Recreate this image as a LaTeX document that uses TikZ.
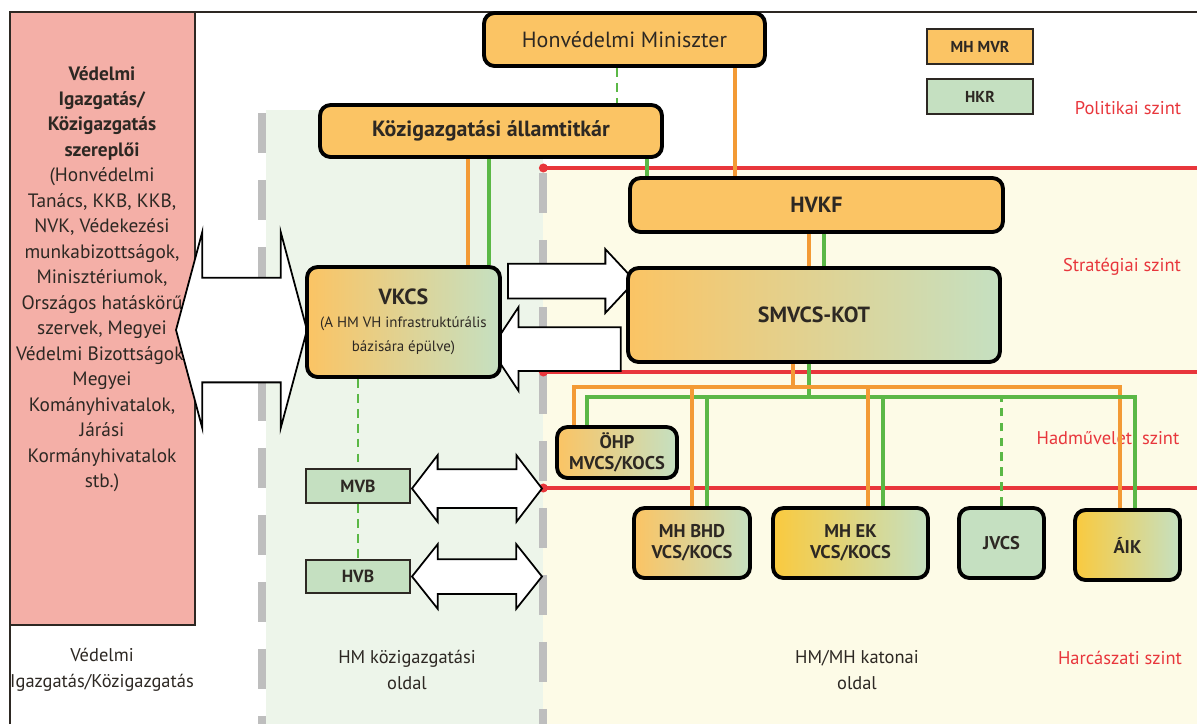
\documentclass[tikz,border=0pt]{standalone}
\usepackage{fontspec}
\setmainfont{PT Sans}
\usepackage{xcolor}
\usetikzlibrary{arrows.meta, calc, shapes.arrows}
\definecolor{mvr}{RGB}{251,196,100}
\definecolor{mvrdeep}{RGB}{250,202,62}
\definecolor{hkr}{RGB}{197,224,193}
\definecolor{actor}{RGB}{244,175,167}
\definecolor{civilbg}{RGB}{237,245,234}
\definecolor{militarybg}{RGB}{253,251,231}
\definecolor{linorange}{RGB}{243,154,53}
\definecolor{lingreen}{RGB}{91,184,70}
\definecolor{levelred}{RGB}{232,54,60}
\definecolor{sidegray}{RGB}{190,190,190}
\definecolor{ink}{RGB}{45,40,35}
\tikzset{
    >=Latex,
    unit/.style={draw=black, line width=2.2pt, rounded corners=6pt, inner sep=0pt, align=center,
        text=ink, font=\bfseries\fontsize{12.5}{14}\selectfont},
    mvrunit/.style={unit, fill=mvr},
    hkrunit/.style={unit, fill=hkr},
    mixunit/.style={unit, left color=mvr, right color=hkr},
    deepunit/.style={unit, left color=mvrdeep, right color=hkr},
    smallunit/.style={font=\bfseries\fontsize{10.5}{12}\selectfont},
    key/.style={draw=ink, line width=1.4pt, inner sep=0pt, minimum width=2.12cm, minimum height=0.7cm,
        text=ink, font=\bfseries\fontsize{9}{11}\selectfont},
    council/.style={key, fill=hkr, minimum width=2.08cm, minimum height=0.67cm, font=\bfseries\fontsize{10}{12}\selectfont},
    mvrlink/.style={draw=linorange, line width=1.8pt},
    hkrlink/.style={draw=lingreen, line width=1.8pt},
    hkrdash/.style={draw=lingreen, line width=1.2pt, dash pattern=on 5pt off 3.5pt},
    levelline/.style={draw=levelred, line width=1.8pt, arrows={Circle[length=5pt]-}},
    level/.style={text=levelred, font=\fontsize{10.5}{12}\selectfont},
    sideline/.style={draw=sidegray, line width=4.5pt, dash pattern=on 0.8cm off 0.54cm},
    side/.style={text=ink, align=center, font=\fontsize{10.5}{14.6}\selectfont},
    actorbox/.style={draw=ink, fill=actor, line width=1.2pt, inner sep=0pt},
    fat/.style={draw=black, fill=white, line width=1pt, inner sep=0pt},
    fatboth/.style={fat, double arrow},
    fatone/.style={fat, single arrow},
}
\newcommand\subline{\mdseries\fontsize{8.5}{10}\selectfont}
\begin{document}
\begin{tikzpicture}[x=0.02cm, y=-0.02cm]
    \useasboundingbox (0,0) rectangle (1197,724);
    % sides and levels
    \fill[civilbg] (266,110) rectangle (543,724);
    \fill[militarybg] (543,168) rectangle (1197,724);
    \draw[line width=1.2pt, ink] (10,724) -- (10,12) -- (1197,12);
    \draw[sideline] (262,113) -- (262,724);
    \draw[sideline] (543,173) -- (543,724);
    \foreach \y in {168,372,488} \draw[levelline] (539,\y) -- (1197,\y);
    \node[level] (lpol) at (1128,108) {Politikai szint};
    \node[level] (lstr) at (1122,267) {Stratégiai szint};
    \node[level] (lhad) at (1108,438) {Hadműveleti szint};
    \node[level] (lhar) at (1120,658) {Harcászati szint};
    \node[side] (sadm) at (102,670) {Védelmi\\Igazgatás/Közigazgatás};
    \node[side] (sciv) at (407,670) {HM közigazgatási\\oldal};
    \node[side] (smil) at (857,670) {HM/MH katonai\\oldal};
    % actors
    \node[actorbox, minimum width=3.7cm, minimum height=12.26cm] (actors) at (102.5,318.5) {};
    \node[side, font=\fontsize{11}{14.5}\selectfont] (actorlist) at (102,279)
        {\textbf{Védelmi}\\\textbf{Igazgatás/}\\\textbf{Közigazgatás}\\\textbf{szereplői}\\(Honvédelmi\\Tanács, KKB, KKB,\\
        NVK, Védekezési\\munkabizottságok,\\Minisztériumok,\\Országos hatáskörű\\szervek, Megyei\\Védelmi Bizottságok,\\
        Megyei\\Kományhivatalok,\\Járási\\Kormányhivatalok\\stb.)};
    % fat arrows
    \node[fatboth, minimum height=2.62cm, minimum width=3.88cm, double arrow head extend=0.91cm,
        double arrow tip angle=150] (aactors) at (241.5,330) {\rule{0pt}{2.06cm}};
    \node[fatone, minimum height=2.54cm, minimum width=1.24cm, single arrow head extend=0.29cm,
        single arrow tip angle=94] (aup) at (563.5,281) {\rule{0pt}{0.66cm}};
    \node[fatone, shape border rotate=180, minimum height=2.6cm, minimum width=1.64cm,
        single arrow head extend=0.4cm, single arrow tip angle=113] (aback) at (563,349) {\rule{0pt}{0.84cm}};
    \node[fatboth, minimum height=2.6cm, minimum width=1.3cm, double arrow head extend=0.28cm,
        double arrow tip angle=105] (amvb) at (477,488.5) {\rule{0pt}{0.74cm}};
    \node[fatboth, minimum height=2.6cm, minimum width=1.26cm, double arrow head extend=0.3cm,
        double arrow tip angle=103] (ahvb) at (477,576.5) {\rule{0pt}{0.66cm}};
    % units
    \node[mvrunit, font=\fontsize{12.5}{14}\selectfont, minimum width=5.62cm, minimum height=1.06cm] (minister) at (624.5,39.5) {Honvédelmi Miniszter};
    \node[mvrunit, minimum width=6.84cm, minimum height=1.04cm] (kozig) at (491,131) {Közigazgatási államtitkár};
    \node[mvrunit, minimum width=7.46cm, minimum height=1.08cm] (hvkf) at (816.5,205) {HVKF};
    \node[mixunit, minimum width=7.44cm, minimum height=1.88cm] (smvcs) at (814,315) {SMVCS-KOT};
    \node[mixunit, minimum width=3.86cm, minimum height=2.2cm] (vkcs) at (403.5,322)
        {VKCS\\[-1pt]{\subline (A HM VH infrastruktúrális}\\{\subline bázisára épülve)}};
    \node[mixunit, smallunit, minimum width=2.4cm, minimum height=1.02cm] (ohp) at (617,452.5) {ÖHP\\MVCS/KOCS};
    \node[mixunit, smallunit, minimum width=2.32cm, minimum height=1.4cm] (bhd) at (692,543) {MH BHD\\VCS/KOCS};
    \node[deepunit, smallunit, minimum width=3.1cm, minimum height=1.4cm] (ek) at (850.5,543) {MH EK\\VCS/KOCS};
    \node[hkrunit, smallunit, minimum width=1.7cm, minimum height=1.4cm] (jvcs) at (1001.5,543) {JVCS};
    \node[deepunit, smallunit, minimum width=2.1cm, minimum height=1.4cm] (aik) at (1127.5,545) {ÁIK};
    \node[council] (mvb) at (358,486) {MVB};
    \node[council] (hvb) at (358,576.5) {HVB};
    % key
    \node[key, fill=mvr] (kmvr) at (980,46.5) {MH MVR};
    \node[key, fill=hkr] (khkr) at (980,96.5) {HKR};
    % links
    \coordinate (obus) at (0,387);
    \coordinate (gbus) at (0,397);
    \draw[hkrdash] (minister.south -| 617,0) -- (kozig.north -| 617,0);
    \draw[mvrlink] (minister.south -| 735,0) -- (hvkf.north -| 735,0);
    \draw[hkrlink] (kozig.south -| 647,0) -- (hvkf.north -| 647,0);
    \draw[mvrlink] (kozig.south -| 468,0) -- (vkcs.north -| 468,0);
    \draw[hkrlink] (kozig.south -| 489,0) -- (vkcs.north -| 489,0);
    \draw[mvrlink] (hvkf.south -| 809,0) -- (smvcs.north -| 809,0);
    \draw[hkrlink] (hvkf.south -| 824,0) -- (smvcs.north -| 824,0);
    \draw[mvrlink] (smvcs.south -| 793,0) -- (793,0 |- obus);
    \draw[hkrlink] (smvcs.south -| 809,0) -- (809,0 |- gbus);
    \draw[mvrlink] (ohp.north -| 574,0) |- (1120,387) -- (aik.north -| 1120,0);
    \draw[hkrlink] (ohp.north -| 587,0) |- (1135,397) -- (aik.north -| 1135,0);
    \foreach \x/\n in {692/bhd, 868/ek} \draw[mvrlink] (\n.north -| \x,0) -- (\x,0 |- obus);
    \foreach \x/\n in {707/bhd, 883/ek} \draw[hkrlink] (\n.north -| \x,0) -- (\x,0 |- gbus);
    \draw[hkrdash] (jvcs.north) -- (jvcs.north |- gbus);
    \draw[hkrdash] (vkcs.south -| mvb.north) -- (mvb.north);
    \draw[hkrdash] (mvb.south) -- (hvb.north);
\end{tikzpicture}
\end{document}
